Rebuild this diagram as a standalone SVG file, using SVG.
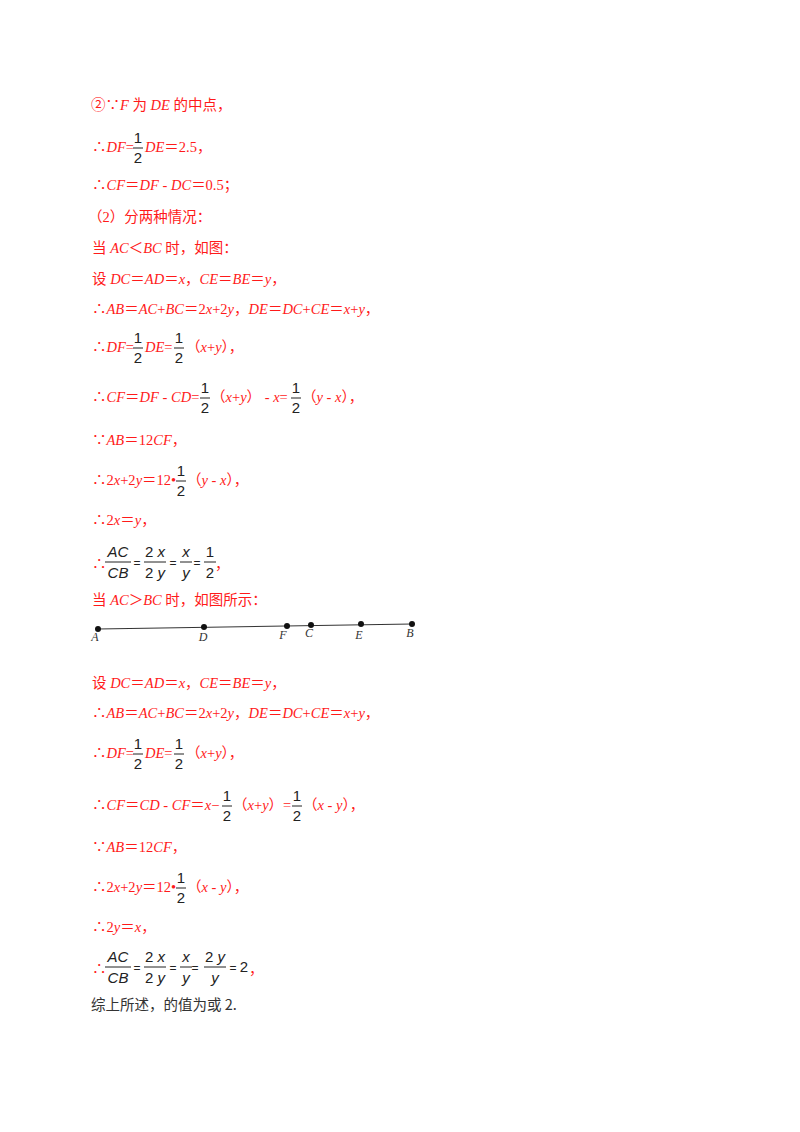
<svg xmlns="http://www.w3.org/2000/svg" width="800" height="1132" viewBox="0 0 800 1132">
<style>
.r{fill:#ff1a1a;font-family:"Liberation Serif","Noto Sans CJK SC",serif;font-size:14.5px}
.i{font-style:italic}
.f{fill:#222;font-family:"Liberation Sans","Noto Sans CJK SC",sans-serif;font-size:15px;text-anchor:middle}
.fi{fill:#222;font-family:"Liberation Sans",sans-serif;font-size:15px;font-style:italic;text-anchor:middle}
.b{stroke:#222;stroke-width:1}
.k{fill:#333;font-family:"Noto Sans CJK SC",sans-serif;font-size:14.5px}
.lb{fill:#333;font-family:"Liberation Serif",serif;font-size:12px;font-style:italic;text-anchor:middle}
</style>
<rect width="800" height="1132" fill="#fff"/>
<text class="r" x="91" y="110">②∵<tspan class="i">F</tspan> 为 <tspan class="i">DE</tspan> 的中点，</text>
<text class="r" x="92" y="152">∴<tspan class="i">DF</tspan>=</text>
<g><text class="f" x="138" y="143">1</text><line class="b" x1="133" y1="148" x2="143" y2="148"/><text class="f" x="138" y="163">2</text></g>
<text class="r" x="145" y="152"><tspan class="i">DE</tspan>＝2.5，</text>
<text class="r" x="92" y="190">∴<tspan class="i">CF</tspan>＝<tspan class="i">DF</tspan> - <tspan class="i">DC</tspan>＝0.5；</text>
<text class="r" x="88" y="222">（2）分两种情况：</text>
<text class="r" x="92" y="253">当 <tspan class="i">AC</tspan>＜<tspan class="i">BC</tspan> 时，如图：</text>
<text class="r" x="92" y="284">设 <tspan class="i">DC</tspan>＝<tspan class="i">AD</tspan>＝<tspan class="i">x</tspan>，<tspan class="i">CE</tspan>＝<tspan class="i">BE</tspan>＝<tspan class="i">y</tspan>，</text>
<text class="r" x="92" y="314">∴<tspan class="i">AB</tspan>＝<tspan class="i">AC</tspan>+<tspan class="i">BC</tspan>＝2<tspan class="i">x</tspan>+2<tspan class="i">y</tspan>，<tspan class="i">DE</tspan>＝<tspan class="i">DC</tspan>+<tspan class="i">CE</tspan>＝<tspan class="i">x</tspan>+<tspan class="i">y</tspan>，</text>
<text class="r" x="92" y="352">∴<tspan class="i">DF</tspan>=</text>
<g><text class="f" x="138" y="343">1</text><line class="b" x1="133" y1="348" x2="143" y2="348"/><text class="f" x="138" y="363">2</text></g>
<text class="r" x="145" y="352"><tspan class="i">DE</tspan>=</text>
<g><text class="f" x="179" y="343">1</text><line class="b" x1="174" y1="348" x2="184" y2="348"/><text class="f" x="179" y="363">2</text></g>
<text class="r" x="186" y="352">（<tspan class="i">x</tspan>+<tspan class="i">y</tspan>），</text>
<text class="r" x="92" y="402">∴<tspan class="i">CF</tspan>＝<tspan class="i">DF</tspan> - <tspan class="i">CD</tspan>=</text>
<g><text class="f" x="205" y="393">1</text><line class="b" x1="200" y1="398" x2="210" y2="398"/><text class="f" x="205" y="413">2</text></g>
<text class="r" x="211" y="402">（<tspan class="i">x</tspan>+<tspan class="i">y</tspan>） - <tspan class="i">x</tspan>=</text>
<g><text class="f" x="296" y="393">1</text><line class="b" x1="291" y1="398" x2="301" y2="398"/><text class="f" x="296" y="413">2</text></g>
<text class="r" x="302" y="402">（<tspan class="i">y</tspan> - <tspan class="i">x</tspan>），</text>
<text class="r" x="92" y="445">∵<tspan class="i">AB</tspan>＝12<tspan class="i">CF</tspan>，</text>
<text class="r" x="92" y="485">∴2<tspan class="i">x</tspan>+2<tspan class="i">y</tspan>＝12•</text>
<g><text class="f" x="181" y="476">1</text><line class="b" x1="176" y1="481" x2="186" y2="481"/><text class="f" x="181" y="496">2</text></g>
<text class="r" x="187" y="485">（<tspan class="i">y</tspan> - <tspan class="i">x</tspan>），</text>
<text class="r" x="92" y="525">∴2<tspan class="i">x</tspan>＝<tspan class="i">y</tspan>，</text>
<text class="r" x="92" y="569">∴</text>
<g><text class="fi" x="118" y="557">AC</text><line class="b" x1="105" y1="562" x2="131" y2="562"/><text class="fi" x="118" y="578">CB</text></g>
<text class="f" x="137" y="567" style="font-size:12px">=</text>
<g><text class="f" x="155" y="557">2 <tspan font-style="italic">x</tspan></text><line class="b" x1="144" y1="562" x2="166" y2="562"/><text class="f" x="155" y="578">2 <tspan font-style="italic">y</tspan></text></g>
<text class="f" x="173" y="567" style="font-size:12px">=</text>
<g><text class="fi" x="186" y="557">x</text><line class="b" x1="180" y1="562" x2="192" y2="562"/><text class="fi" x="186" y="578">y</text></g>
<text class="f" x="197" y="567" style="font-size:12px">=</text>
<g><text class="f" x="210" y="557">1</text><line class="b" x1="204" y1="562" x2="216" y2="562"/><text class="f" x="210" y="578">2</text></g>
<text class="r" x="215" y="569">，</text>
<text class="r" x="92" y="605">当 <tspan class="i">AC</tspan>＞<tspan class="i">BC</tspan> 时，如图所示：</text>
<g id="segment">
<line x1="98" y1="629" x2="412" y2="624" stroke="#333" stroke-width="1.2"/>
<g fill="#111"><circle cx="98" cy="629" r="3"/><circle cx="204" cy="627" r="3"/><circle cx="287" cy="626" r="3"/><circle cx="311" cy="625" r="3"/><circle cx="361" cy="624" r="3"/><circle cx="412" cy="624" r="3"/></g>
<text class="lb" x="95" y="641">A</text><text class="lb" x="203" y="641">D</text><text class="lb" x="283" y="639">F</text><text class="lb" x="309" y="637">C</text><text class="lb" x="359" y="639">E</text><text class="lb" x="410" y="637">B</text>
</g>
<text class="r" x="92" y="688">设 <tspan class="i">DC</tspan>＝<tspan class="i">AD</tspan>＝<tspan class="i">x</tspan>，<tspan class="i">CE</tspan>＝<tspan class="i">BE</tspan>＝<tspan class="i">y</tspan>，</text>
<text class="r" x="92" y="718">∴<tspan class="i">AB</tspan>＝<tspan class="i">AC</tspan>+<tspan class="i">BC</tspan>＝2<tspan class="i">x</tspan>+2<tspan class="i">y</tspan>，<tspan class="i">DE</tspan>＝<tspan class="i">DC</tspan>+<tspan class="i">CE</tspan>＝<tspan class="i">x</tspan>+<tspan class="i">y</tspan>，</text>
<text class="r" x="92" y="758">∴<tspan class="i">DF</tspan>=</text>
<g><text class="f" x="138" y="749">1</text><line class="b" x1="133" y1="754" x2="143" y2="754"/><text class="f" x="138" y="769">2</text></g>
<text class="r" x="145" y="758"><tspan class="i">DE</tspan>=</text>
<g><text class="f" x="179" y="749">1</text><line class="b" x1="174" y1="754" x2="184" y2="754"/><text class="f" x="179" y="769">2</text></g>
<text class="r" x="186" y="758">（<tspan class="i">x</tspan>+<tspan class="i">y</tspan>），</text>
<text class="r" x="92" y="810">∴<tspan class="i">CF</tspan>＝<tspan class="i">CD</tspan> - <tspan class="i">CF</tspan>＝<tspan class="i">x</tspan>−</text>
<g><text class="f" x="227" y="801">1</text><line class="b" x1="222" y1="806" x2="232" y2="806"/><text class="f" x="227" y="821">2</text></g>
<text class="r" x="233" y="810">（<tspan class="i">x</tspan>+<tspan class="i">y</tspan>）=</text>
<g><text class="f" x="297" y="801">1</text><line class="b" x1="292" y1="806" x2="302" y2="806"/><text class="f" x="297" y="821">2</text></g>
<text class="r" x="303" y="810">（<tspan class="i">x</tspan> - <tspan class="i">y</tspan>），</text>
<text class="r" x="92" y="852">∵<tspan class="i">AB</tspan>＝12<tspan class="i">CF</tspan>，</text>
<text class="r" x="92" y="892">∴2<tspan class="i">x</tspan>+2<tspan class="i">y</tspan>＝12•</text>
<g><text class="f" x="181" y="883">1</text><line class="b" x1="176" y1="888" x2="186" y2="888"/><text class="f" x="181" y="903">2</text></g>
<text class="r" x="187" y="892">（<tspan class="i">x</tspan> - <tspan class="i">y</tspan>），</text>
<text class="r" x="92" y="932">∴2<tspan class="i">y</tspan>＝<tspan class="i">x</tspan>，</text>
<text class="r" x="92" y="974">∴</text>
<g><text class="fi" x="118" y="962">AC</text><line class="b" x1="105" y1="967" x2="131" y2="967"/><text class="fi" x="118" y="983">CB</text></g>
<text class="f" x="137" y="972" style="font-size:12px">=</text>
<g><text class="f" x="155" y="962">2 <tspan font-style="italic">x</tspan></text><line class="b" x1="144" y1="967" x2="166" y2="967"/><text class="f" x="155" y="983">2 <tspan font-style="italic">y</tspan></text></g>
<text class="f" x="173" y="972" style="font-size:12px">=</text>
<g><text class="fi" x="186" y="962">x</text><line class="b" x1="180" y1="967" x2="192" y2="967"/><text class="fi" x="186" y="983">y</text></g>
<text class="f" x="195" y="972" style="font-size:12px">=</text>
<g><text class="f" x="215" y="962">2 <tspan font-style="italic">y</tspan></text><line class="b" x1="204" y1="967" x2="226" y2="967"/><text class="fi" x="215" y="983">y</text></g>
<text class="f" x="233" y="972" style="font-size:12px">=</text>
<text class="f" x="244" y="972">2</text>
<text class="r" x="249" y="974">，</text>
<text class="k" x="91" y="1010">综上所述，的值为或 2.</text>
</svg>
